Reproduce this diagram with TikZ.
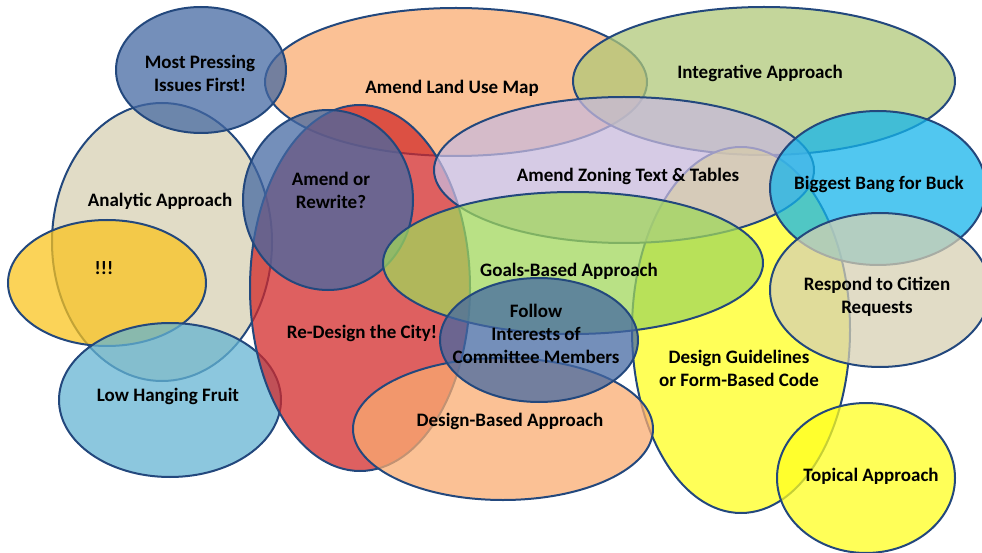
\documentclass[tikz,border=0pt]{standalone}
\usepackage{fontspec}
\setmainfont{Carlito}
\definecolor{edge}{RGB}{35,72,125}
\definecolor{cblue}{RGB}{68,104,162}
\definecolor{corange}{RGB}{250,172,112}
\definecolor{colive}{RGB}{175,200,120}
\definecolor{ctan}{RGB}{214,208,178}
\definecolor{cgold}{RGB}{250,195,30}
\definecolor{clblue}{RGB}{100,180,210}
\definecolor{cred}{RGB}{210,40,40}
\definecolor{clav}{RGB}{200,185,220}
\definecolor{cgreen}{RGB}{160,215,90}
\definecolor{cyel}{RGB}{255,255,30}
\definecolor{ccyan}{RGB}{20,180,235}
\begin{document}
\begin{tikzpicture}[x=1pt,y=-1pt,
  blob/.style={draw=edge, line width=2pt, fill opacity=0.74},
  lbl/.style={font=\fontsize{19}{23}\selectfont\bfseries, align=center, text=black, inner sep=0pt}]
\useasboundingbox (0,0) rectangle (982,553);
% shapes
\path[blob, fill=corange] (456,82) ellipse [x radius=191, y radius=74];
\path[blob, fill=colive] (764,81) ellipse [x radius=191, y radius=74];
\path[blob, fill=ctan] (162,242) ellipse [x radius=110, y radius=139];
\path[blob, fill=cblue] (201,70) ellipse [x radius=85, y radius=63];
\path[blob, fill=cgold] (107,283) ellipse [x radius=99, y radius=63];
\path[blob, fill=clblue] (170,400) ellipse [x radius=111, y radius=77];
\path[blob, fill=cred] (360,288) ellipse [x radius=110, y radius=183];
\path[blob, fill=cblue] (328,200) ellipse [x radius=85, y radius=90];
\path[blob, fill=cyel] (741,330) ellipse [x radius=109, y radius=183];
\path[blob, fill=clav] (624,170) ellipse [x radius=190, y radius=73];
\path[blob, fill=cgreen] (573,263) ellipse [x radius=190, y radius=71];
\path[blob, fill=ccyan] (878,188) ellipse [x radius=108, y radius=77];
\path[blob, fill=ctan] (880,290) ellipse [x radius=110, y radius=77];
\path[blob, fill=corange] (503,429) ellipse [x radius=150, y radius=71];
\path[blob, fill=cblue] (539,340) ellipse [x radius=99, y radius=62];
\path[blob, fill=cyel] (866,478) ellipse [x radius=89, y radius=75];
% labels
\node[lbl] (mp) at (200,73) {Most Pressing\\Issues First!};
\node[lbl] (lu) at (452,88) {Amend Land Use Map};
\node[lbl] (ia) at (760,73) {Integrative Approach};
\node[lbl] (aa) at (160,201) {Analytic Approach};
\node[lbl] (ex) at (104,268) {!!!};
\node[lbl] (lh) at (168,396) {Low Hanging Fruit};
\node[lbl] (rd) at (362,333) {Re-Design the City!};
\node[lbl] (ar) at (331,190) {Amend or\\Rewrite?};
\node[lbl] (zt) at (628,176) {Amend Zoning Text \& Tables};
\node[lbl] (gb) at (569,271) {Goals-Based Approach};
\node[lbl] (bb) at (879,184) {Biggest Bang for Buck};
\node[lbl] (rc) at (877,297) {Respond to Citizen\\Requests};
\node[lbl] (fi) at (536,334) {Follow\\Interests of\\Committee Members};
\node[lbl] (dg) at (739,368) {Design Guidelines\\or Form-Based Code};
\node[lbl] (db) at (510,421) {Design-Based Approach};
\node[lbl] (ta) at (871,476) {Topical Approach};
\end{tikzpicture}
\end{document}
